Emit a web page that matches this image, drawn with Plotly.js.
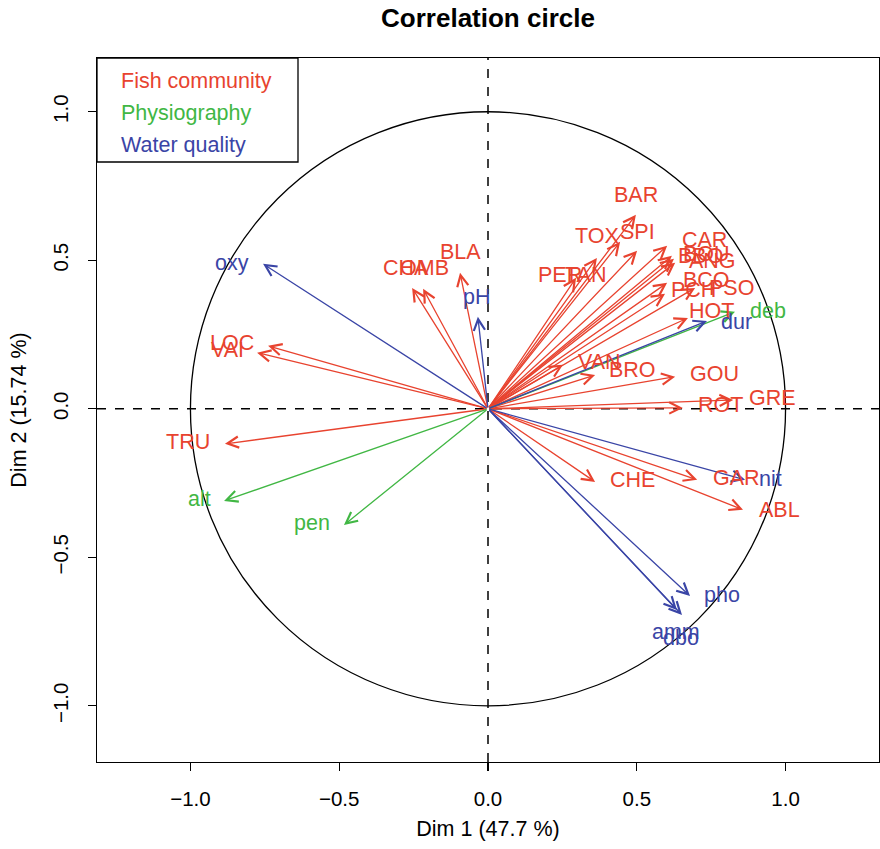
<!DOCTYPE html>
<html>
<head>
<meta charset="utf-8">
<script src="https://cdn.plot.ly/plotly-3.0.1.min.js"></script>
<style>html,body{margin:0;padding:0;background:#fff;}#chart{width:880px;height:849px;}</style>
</head>
<body>
<div id="chart"></div>
<script>
// Variable names and groups
const varNames = ["CHA","OMB","BLA","TRU","LOC","VAI","BAR","SPI","TOX","PER","TAN","CAR","BOU","BBO","ANG","BCO","PCH","PSO","HOT","VAN","BRO","GOU","ROT","GRE","CHE","GAR","ABL",
                  "alt","pen","deb",
                  "pH","dur","pho","nit","amm","oxy","dbo"];
const varGroup = ["Fish community","Fish community","Fish community","Fish community","Fish community","Fish community","Fish community","Fish community","Fish community","Fish community","Fish community","Fish community","Fish community","Fish community","Fish community","Fish community","Fish community","Fish community","Fish community","Fish community","Fish community","Fish community","Fish community","Fish community","Fish community","Fish community","Fish community",
                  "Physiography","Physiography","Physiography",
                  "Water quality","Water quality","Water quality","Water quality","Water quality","Water quality","Water quality"];
// Correlations with Dim 1 and Dim 2 (arrow tips)
const dim1 = [-0.255,-0.218,-0.094,-0.884,-0.739,-0.776,0.497,0.501,0.444,0.296,0.366,0.602,0.618,0.625,0.629,0.602,0.595,0.696,0.672,0.252,0.360,0.629,0.655,0.824,0.360,0.703,0.857,
              -0.887,-0.484,0.830,
              -0.034,0.736,0.679,0.864,0.635,-0.756,0.652];
const dim2 = [0.407,0.404,0.458,-0.118,0.212,0.189,0.653,0.532,0.562,0.441,0.508,0.549,0.515,0.505,0.492,0.424,0.387,0.407,0.306,0.148,0.114,0.108,0.003,0.030,-0.246,-0.239,-0.340,
              -0.310,-0.391,0.327,
              0.310,0.296,-0.630,-0.239,-0.677,0.488,-0.694];
// Label positions (as placed in the figure)
const labelX = [-0.276,-0.215,-0.094,-1.008,-0.861,-0.877,0.497,0.504,0.366,0.242,0.329,0.726,0.733,0.713,0.756,0.733,0.692,0.817,0.750,0.376,0.487,0.760,0.783,0.955,0.487,0.834,0.978,
                -0.971,-0.592,0.941,
                -0.040,0.834,0.787,0.951,0.632,-0.861,0.649];
const labelY = [0.475,0.475,0.529,-0.111,0.222,0.199,0.721,0.596,0.582,0.451,0.451,0.569,0.522,0.515,0.498,0.434,0.401,0.407,0.330,0.158,0.131,0.118,0.013,0.037,-0.239,-0.232,-0.340,
                -0.303,-0.384,0.330,
                0.377,0.293,-0.626,-0.236,-0.751,0.492,-0.771];
const groups = ["Fish community","Physiography","Water quality"];
const groupColors = {"Fish community":"#E8432F","Physiography":"#41B744","Water quality":"#3A45A6"};
const xTicks = [-1.0,-0.5,0.0,0.5,1.0];
const yTicks = [-1.0,-0.5,0.0,0.5,1.0];

const FONT = "Liberation Sans, Arial, Helvetica, sans-serif";
const annotations = [];
for (let i = 0; i < varNames.length; i++) {
  const col = groupColors[varGroup[i]];
  annotations.push({
    x: dim1[i], y: dim2[i], xref: 'x', yref: 'y',
    ax: 0, ay: 0, axref: 'x', ayref: 'y',
    text: '', showarrow: true, arrowhead: 5, arrowsize: 1.7, arrowwidth: 1.3,
    arrowcolor: col, standoff: 0, startstandoff: 0
  });
}
for (let i = 0; i < varNames.length; i++) {
  const col = groupColors[varGroup[i]];
  annotations.push({
    x: labelX[i], y: labelY[i], xref: 'x', yref: 'y',
    text: varNames[i], showarrow: false, xanchor: 'center', yanchor: 'middle',
    font: {family: FONT, size: 21.5, color: col}
  });
}
// legend
groups.forEach((g, k) => {
  annotations.push({
    x: 119, y: 81 + 32 * k, xref: 'paper', yref: 'paper', text: g, showarrow: false,
    xanchor: 'left', yanchor: 'middle', font: {family: FONT, size: 21.5, color: groupColors[g]}
  });
});
// convert legend pixel positions to paper coords
const L = 97, R = 1, T = 58, B = 87, W = 880, H = 849;
const pw = W - L - R, ph = H - T - B;
annotations.slice(-3).forEach(a => {
  a.x = (a.x - L) / pw;
  a.y = 1 - (a.y - T) / ph;
});

const shapes = [
  {type: 'circle', xref: 'x', yref: 'y', x0: -1, x1: 1, y0: -1, y1: 1, line: {color: '#000', width: 1.3}},
  {type: 'line', xref: 'x', yref: 'paper', x0: 0, x1: 0, y0: 0, y1: 1, line: {color: '#000', width: 1.5, dash: 'dash'}},
  {type: 'line', xref: 'paper', yref: 'y', x0: 0, x1: 1, y0: 0, y1: 0, line: {color: '#000', width: 1.5, dash: 'dash'}},
  {type: 'rect', xref: 'paper', yref: 'paper', x0: 0, x1: (298 - L) / pw, y0: 1 - (162 - T) / ph, y1: 1, line: {color: '#000', width: 1.3}, fillcolor: 'rgba(0,0,0,0)'}
];

const layout = {
  width: W, height: H,
  margin: {l: L, r: R, t: T, b: B},
  paper_bgcolor: '#fff', plot_bgcolor: '#fff',
  showlegend: false,
  title: {text: '<b>Correlation circle</b>', x: (488) / W, xanchor: 'center', y: 1 - 18 / H, yanchor: 'middle',
          font: {family: FONT, size: 26, color: '#000'}},
  xaxis: {
    range: [-1.314, 1.314], tickvals: xTicks, ticktext: xTicks.map(v => v.toFixed(1).replace('-', '\u2212')),
    showgrid: false, zeroline: false, showline: true, mirror: true, linecolor: '#000', linewidth: 1.3,
    ticks: 'outside', ticklen: 8, tickwidth: 1.2, tickcolor: '#000', ticklabelstandoff: 10,
    tickfont: {family: FONT, size: 20.5, color: '#000'},
    title: {text: 'Dim 1 (47.7 %)', font: {family: FONT, size: 21.5, color: '#000'}, standoff: 12}
  },
  yaxis: {
    range: [-1.189, 1.181], tickvals: yTicks, ticktext: yTicks.map(v => v.toFixed(1).replace('-', '\u2212')),
    tickangle: -90,
    showgrid: false, zeroline: false, showline: true, mirror: true, linecolor: '#000', linewidth: 1.3,
    ticks: 'outside', ticklen: 8, tickwidth: 1.2, tickcolor: '#000', ticklabelstandoff: 12,
    tickfont: {family: FONT, size: 20.5, color: '#000'},
    title: {text: 'Dim 2 (15.74 %)', font: {family: FONT, size: 21.5, color: '#000'}, standoff: 16}
  },
  annotations: annotations,
  shapes: shapes
};
const data = [{x: dim1, y: dim2, type: 'scatter', mode: 'markers', marker: {size: 1, opacity: 0}, hoverinfo: 'skip', text: varNames}];
Plotly.newPlot('chart', data, layout, {staticPlot: true});
</script>
</body>
</html>
